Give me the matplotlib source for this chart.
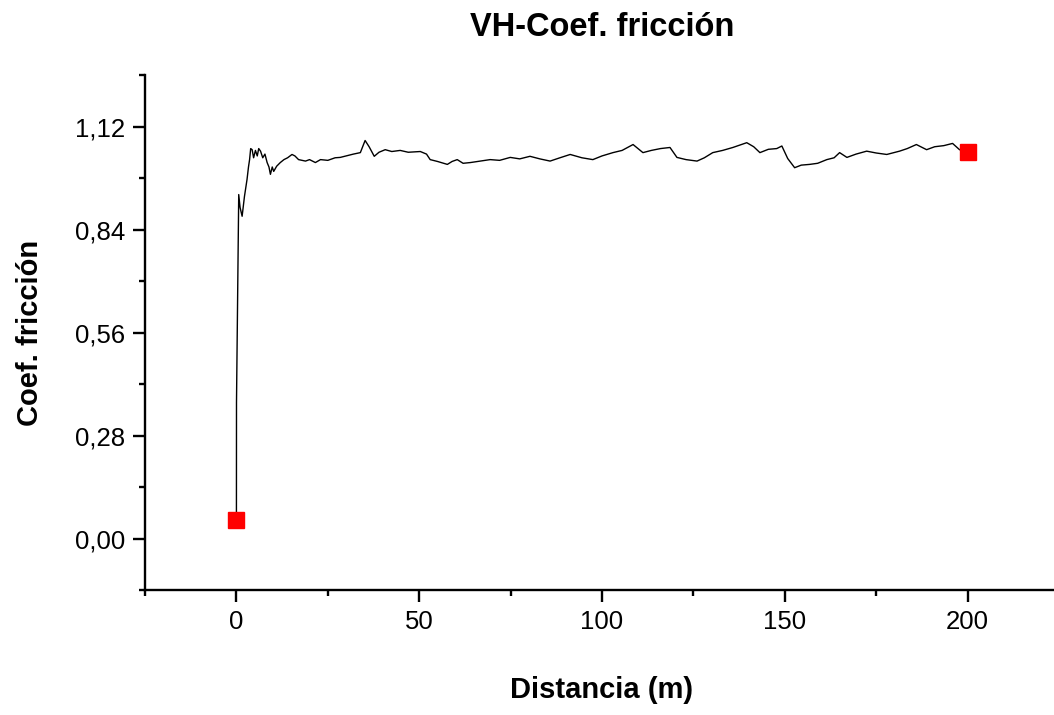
import matplotlib.pyplot as plt
from matplotlib.ticker import MultipleLocator, FuncFormatter

plt.rcParams['font.family'] = ['Liberation Sans', 'DejaVu Sans']

# distance (m) and friction coefficient
dist = [0, 0.02, 0.63, 1.0, 1.56, 2.2, 2.9, 3.3, 3.6, 3.9, 4.3, 4.7, 5.2, 5.7, 6.1, 6.6,
        7.2, 7.8, 8.4, 8.9, 9.3, 9.8, 10.2, 11, 12, 13, 14, 15.2, 16, 17, 18.9, 20,
        21.6, 23, 25, 27, 28.4, 30, 32, 33.9, 35.2, 36.3, 37.7, 39, 40.7, 42.5, 44.8, 47,
        50.3, 52, 53, 55, 57.7, 59, 60.4, 62, 64, 66.7, 69.4, 72, 74.9, 77.5, 80.3, 83,
        85.8, 88.5, 91.3, 94.5, 97.5, 100, 103, 105.5, 108.5, 111.2, 113.5, 116, 118.6, 120.5,
        123, 126, 128, 130.3, 133, 135.8, 139.6, 141.5, 143.2, 145.5, 147.8, 149.2, 150.8, 152.7,
        154.5, 156.8, 159, 161.5, 163.5, 165, 167, 169.5, 172.4, 175, 177.9, 181.4, 183.5, 186,
        188.8, 191, 193.5, 195.9, 197.8, 200]
coef = [0.05, 0.37, 0.935, 0.90, 0.876, 0.93, 0.976, 1.01, 1.030, 1.06, 1.057, 1.035, 1.055, 1.04, 1.06, 1.053,
        1.035, 1.045, 1.022, 1.01, 0.990, 1.01, 0.998, 1.012, 1.022, 1.03, 1.035, 1.044, 1.04, 1.030, 1.026, 1.03,
        1.022, 1.03, 1.028, 1.035, 1.036, 1.04, 1.045, 1.049, 1.082, 1.065, 1.039, 1.05, 1.057, 1.052, 1.055, 1.05,
        1.052, 1.045, 1.030, 1.025, 1.017, 1.025, 1.030, 1.02, 1.022, 1.026, 1.030, 1.028, 1.036, 1.032, 1.039, 1.032,
        1.026, 1.035, 1.044, 1.035, 1.030, 1.04, 1.049, 1.055, 1.071, 1.049, 1.055, 1.06, 1.063, 1.036,
        1.03, 1.026, 1.035, 1.049, 1.055, 1.063, 1.076, 1.065, 1.049, 1.058, 1.060, 1.067, 1.033, 1.008,
        1.015, 1.017, 1.02, 1.030, 1.035, 1.049, 1.036, 1.045, 1.053, 1.048, 1.044, 1.053, 1.06, 1.071,
        1.057, 1.065, 1.068, 1.074, 1.057, 1.052]

fig = plt.figure(figsize=(10.54, 7.15), dpi=100)
ax = fig.add_axes([0.1376, 0.1748, 0.8671, 0.7203])

ax.plot(dist, coef, color='black', lw=1.0)
ax.plot([dist[0], dist[-1]], [coef[0], coef[-1]], 's', color='#ff0000', ms=12, mec='#ff0000')

ax.set_xlim(-25, 225)
ax.set_ylim(-0.14, 1.26)
ax.xaxis.set_major_locator(MultipleLocator(50))
ax.xaxis.set_minor_locator(MultipleLocator(25))
ax.yaxis.set_major_locator(MultipleLocator(0.28))
ax.yaxis.set_minor_locator(MultipleLocator(0.14))
ax.yaxis.set_major_formatter(FuncFormatter(lambda v, p: ('%.2f' % v).replace('.', ',').replace('-0,00', '0,00')))

for s in ['top', 'right']:
    ax.spines[s].set_visible(False)
for s in ['left', 'bottom']:
    ax.spines[s].set_linewidth(1.7)
ax.tick_params(which='major', direction='out', length=8.5, width=1.7, labelsize=18.5, pad=6)
ax.tick_params(which='minor', direction='out', length=4.3, width=1.7)

ax.set_title('VH-Coef. fricción', fontsize=23.5, fontweight='bold', pad=28)
ax.set_xlabel('Distancia (m)', fontsize=21, fontweight='bold', labelpad=30)
ax.set_ylabel('Coef. fricción', fontsize=21, fontweight='bold', labelpad=22)

fig.savefig('out.png', dpi=100)
